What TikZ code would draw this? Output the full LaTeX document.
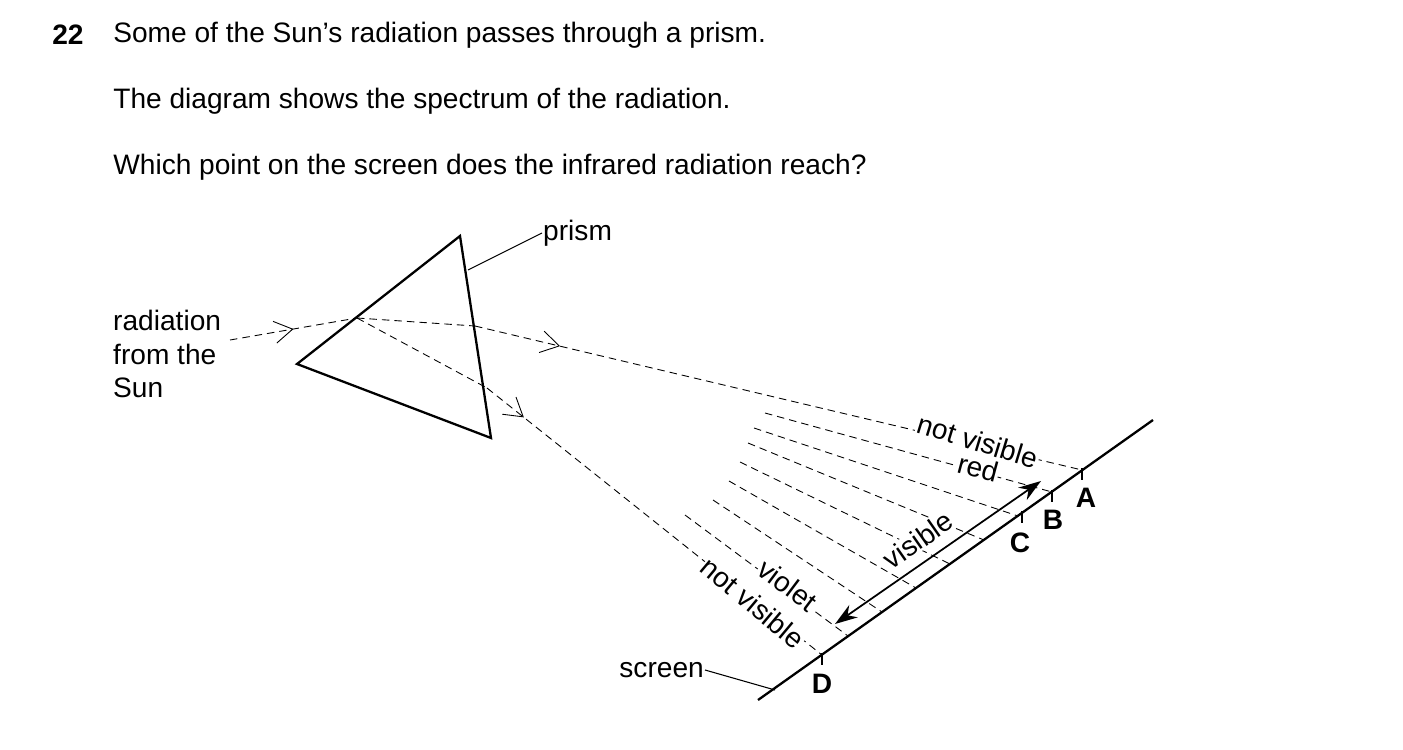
\documentclass[tikz,border=0pt]{standalone}
\usepackage{fontspec}
\setmainfont{Liberation Sans}
\usetikzlibrary{arrows.meta,decorations.markings}

\begin{document}
\begin{tikzpicture}[x=0.02cm,y=-0.02cm,font=\fontsize{16}{19}\selectfont]
    \tikzstyle{ray} = [dashed, dash pattern=on 0.15cm off 0.1cm, line width=0.5pt]
    \tikzstyle{body} = [line width=1.3pt]
    \tikzstyle{label} = [inner sep=0.5pt]
    \tikzstyle{letter} = [font=\fontsize{16}{19}\selectfont\bfseries, inner sep=1pt]
    \tikzset{barb/.style={postaction={decorate,decoration={markings,
        mark=at position #1 with {\arrow{Straight Barb[length=3.6mm,width=4.4mm,line width=0.5pt]}}}}}}
    \useasboundingbox (0,0) rectangle (1403,750);

    % question text
    \node[anchor=west, font=\fontsize{16}{19}\selectfont\bfseries, inner sep=0] (num) at (52,35) {22};
    \node[anchor=west, inner sep=0] (q1) at (113,35) {Some of the Sun’s radiation passes through a prism.};
    \node[anchor=west, inner sep=0] (q2) at (113,101) {The diagram shows the spectrum of the radiation.};
    \node[anchor=west, inner sep=0] (q3) at (113,167) {Which point on the screen does the infrared radiation reach?};

    % prism
    \coordinate (apex) at (460,236);
    \coordinate (left) at (297,364);
    \coordinate (base) at (491,438);
    \draw[body] (apex) -- (left) -- (base) -- cycle;
    \node[label, anchor=west] (prism) at (542,233) {prism};
    \draw[line width=0.6pt] (prism.west) -- (468,270);

    % rays
    \node[label, anchor=west, align=left] (sun) at (112,354) {radiation\\from the\\Sun};
    \coordinate (in) at (357,318);
    \coordinate (outA) at (475,326);
    \coordinate (outD) at (487,388);
    \draw[ray, barb=0.5] (230,340) -- (in);
    \draw[ray] (in) -- (outA);
    \draw[ray] (in) -- (outD);

    % screen
    \coordinate (s1) at (758,700);
    \coordinate (s2) at (1153,420);
    \draw[body] (s1) -- (s2);
    \node[label, anchor=east] (screen) at (705,670) {screen};
    \draw[line width=0.6pt] (screen.east) -- (775,690);

    \coordinate (A) at (1082,470);
    \coordinate (D) at (822,655);
    \draw[ray, barb=0.14] (outA) -- (A);
    \draw[ray, barb=0.11] (outD) -- (D);

    % spectrum
    \foreach \sx/\sy/\ex/\ey in {765/413/1052/492, 754/428/1018/516, 748/443/984/540,
        740/462/950/564, 729/481/916/588, 713/500/882/612, 685/515/848/636}
        \draw[ray] (\sx,\sy) -- (\ex,\ey);

    % ticks and letters
    \foreach \tx/\ty in {1082/470, 1052/492, 1022/513, 822/655} {
        \draw[line width=0.8pt] (\tx,\ty-2) -- (\tx,\ty+10);
    }
    \node[letter] (la) at (1086,498) {A};
    \node[letter] (lb) at (1053,520) {B};
    \node[letter] (lc) at (1020,543) {C};
    \node[letter] (ld) at (822,684) {D};

    % visible range
    \coordinate (v1) at (835,624);
    \coordinate (v2) at (1041,481);
    \draw[line width=1pt, {Stealth[length=4.5mm,width=3mm]}-{Stealth[length=4.5mm,width=3mm]}] (v1) -- (v2);
    \node[label, fill=white, rotate=35] (vis) at (918,540) {visible};

    % labels along the rays
    \node[label, fill=white, rotate=-17] (nv1) at (978,441) {not visible};
    \node[label, fill=white, rotate=-15] (red) at (978,468) {red};
    \node[label, fill=white, rotate=-37] (viol) at (788,585) {violet};
    \node[label, fill=white, rotate=-40] (nv2) at (753,603) {not visible};
\end{tikzpicture}
\end{document}
